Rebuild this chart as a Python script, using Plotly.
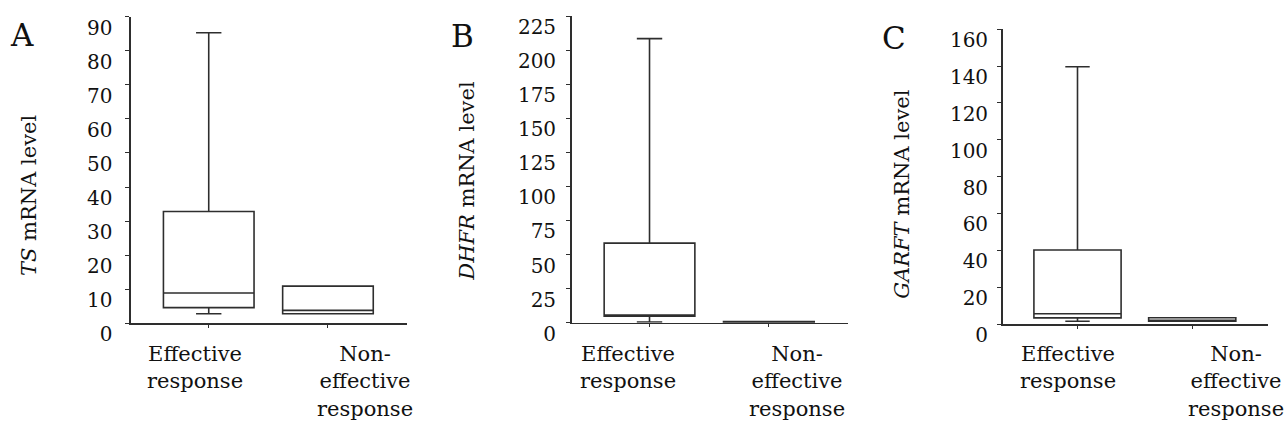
import plotly.graph_objects as go

# ---------------- data ----------------
categories = ["Effective<br>response", "Non-<br>effective<br>response"]
panel_letters = ["A", "B", "C"]
y_titles = ["<i>TS</i> mRNA level", "<i>DHFR</i> mRNA level", "<i>GARFT</i> mRNA level"]

# box statistics per panel: [Effective, Non-effective]
ts_lower = [2.8, 2.8]
ts_q1 = [4.6, 2.8]
ts_median = [8.9, 3.8]
ts_q3 = [32.8, 10.9]
ts_upper = [85.3, 10.9]

dhfr_lower = [0.5, 0.3]
dhfr_q1 = [4.8, 0.3]
dhfr_median = [5.5, 0.5]
dhfr_q3 = [58.4, 0.9]
dhfr_upper = [208.4, 0.9]

garft_lower = [1.5, 1.5]
garft_q1 = [3.3, 1.5]
garft_median = [5.6, 1.5]
garft_q3 = [40.2, 3.4]
garft_upper = [139.7, 3.4]

y_max = [90, 225, 160]
y_dtick = [10, 25, 20]

# ---------------- layout constants (pixels) ----------------
W, H = 1286, 429
FONT = "DejaVu Serif"
LINE = "#2e2e2e"
TXT = "#111111"

# plot areas: (left, right, bottom(y of zero), top) in pixels
areas = [(131, 407, 323.3, 16.7), (571.7, 848, 322.7, 16.0), (1002.7, 1268.3, 324.0, 29.3)]
letter_pos = [(22, 35), (462, 36), (894, 38)]
ytitle_pos = [(29, 196), (466.7, 181), (901.7, 194)]
label_shift = [(-14, 37), (-22, 28), (-10, 44)]
tick_standoff = [9, 6, 5]

stats = [
    (ts_lower, ts_q1, ts_median, ts_q3, ts_upper),
    (dhfr_lower, dhfr_q1, dhfr_median, dhfr_q3, dhfr_upper),
    (garft_lower, garft_q1, garft_median, garft_q3, garft_upper),
]

fig = go.Figure()
annotations = []
positions = list(range(len(categories)))

for i in range(3):
    sfx = "" if i == 0 else str(i + 1)
    lo, q1, med, q3, up = stats[i]
    fig.add_trace(go.Box(
        x=positions, q1=q1, median=med, q3=q3, lowerfence=lo, upperfence=up,
        xaxis="x" + sfx, yaxis="y" + sfx,
        width=0.76, whiskerwidth=0.28,
        fillcolor="white", line=dict(color=LINE, width=1.6),
        boxpoints=False, showlegend=False, hoverinfo="skip",
    ))
    l, r, b, t = areas[i]
    fig.layout["xaxis" + sfx] = dict(
        domain=[l / W, r / W], anchor="y" + sfx,
        range=[-0.652, 1.663], tickvals=positions, ticktext=["", ""],
        showline=True, linecolor=LINE, linewidth=1.6,
        ticks="outside", ticklen=3, tickwidth=1, tickcolor=LINE,
        showgrid=False, zeroline=False, fixedrange=True, automargin=False,
    )
    fig.layout["yaxis" + sfx] = dict(
        domain=[1 - b / H, 1 - t / H], anchor="x" + sfx,
        range=[0, y_max[i]], dtick=y_dtick[i], tick0=0,
        showline=True, linecolor=LINE, linewidth=1.6,
        ticks="outside", ticklen=4, tickwidth=1, tickcolor=LINE,
        showgrid=False, zeroline=False, fixedrange=True, automargin=False,
        tickfont=dict(family=FONT, size=20, color=TXT),
        ticklabelshift=11, ticklabelstandoff=tick_standoff[i],
    )
    # panel letter
    lx, ly = letter_pos[i]
    annotations.append(dict(
        text=panel_letters[i], xref="paper", yref="paper",
        x=lx / W, y=1 - ly / H, xanchor="center", yanchor="middle",
        showarrow=False, font=dict(family=FONT, size=31, color=TXT),
    ))
    # y title
    tx, ty = ytitle_pos[i]
    annotations.append(dict(
        text=y_titles[i], xref="paper", yref="paper",
        x=tx / W, y=1 - ty / H, xanchor="center", yanchor="middle",
        textangle=-90, showarrow=False,
        font=dict(family=FONT, size=21, color=TXT),
    ))
    # category labels
    for j, cat in enumerate(categories):
        annotations.append(dict(
            text=cat, xref="x" + sfx, yref="paper",
            x=positions[j], xshift=label_shift[i][j],
            y=1 - 340 / H, xanchor="center", yanchor="top",
            showarrow=False, align="center",
            font=dict(family=FONT, size=21, color=TXT),
        ))

fig.update_layout(
    width=W, height=H,
    margin=dict(l=0, r=0, t=0, b=0, autoexpand=False),
    paper_bgcolor="white", plot_bgcolor="white",
    annotations=annotations,
    showlegend=False,
)

fig.write_html(
    "out.html",
    config={"displayModeBar": False, "staticPlot": True},
    post_script="document.body.style.margin='0';document.body.style.padding='0';document.body.style.overflow='hidden';",
)
